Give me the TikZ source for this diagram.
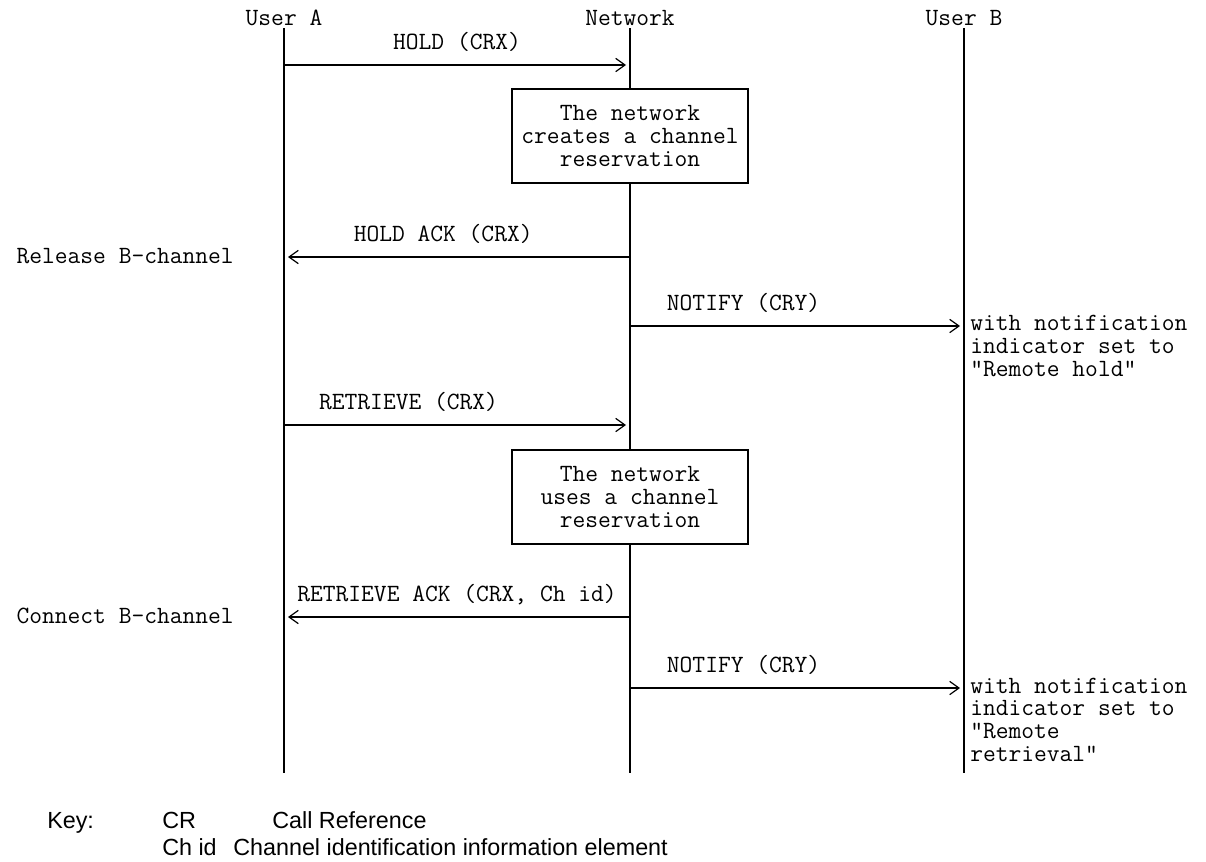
\documentclass[tikz,border=0pt]{standalone}
\usepackage{fontspec}
\newfontfamily\keyfont{Liberation Sans}
\usetikzlibrary{arrows.meta}

\tikzset{
  txt/.style={font=\ttfamily\fontsize{18.6}{17}\selectfont, inner sep=0pt},
  head/.style={txt, anchor=base},
  life/.style={line width=1.4pt},
  msg/.style={line width=1.1pt, -{Straight Barb[length=7pt,width=10pt,line width=0.9pt]}, shorten >=3pt},
  msglabel/.style={txt, anchor=base, yshift=12pt},
  actbox/.style={draw, line width=1.1pt, fill=white, minimum width=177pt, minimum height=70.5pt,
    align=center, font=\ttfamily\fontsize{18.6}{17.6}\selectfont, inner sep=2pt},
  note/.style={txt, align=left, anchor=base west},
  sidetxt/.style={txt, anchor=base east},
  keytxt/.style={font=\keyfont\fontsize{17.5}{17.5}\selectfont, inner sep=0pt, anchor=base west}
}

\begin{document}
\begin{tikzpicture}[x=0.75pt,y=-0.75pt]
  \useasboundingbox (0,0) rectangle (1206,861);

  % Lifelines
  \node[head] (userA) at (284,25) {User A};
  \node[head] (net) at (630,25) {Network};
  \node[head] (userB) at (964,25) {User B};
  \foreach \n in {userA,net,userB}
    \draw[life] (\n |- 0,28) -- (\n |- 0,773);

  % Hold
  \draw[msg] (userA |- 0,65) -- (net |- 0,65) node[msglabel, midway] {HOLD (CRX)};
  \node[actbox] (resv1) at (630,136) {The network\\creates a channel\\reservation};
  \draw[msg] (net |- 0,257) -- (userA |- 0,257) node[msglabel, pos=0.54] {HOLD ACK (CRX)};
  \node[sidetxt] (rel) at (234,263) {Release B-channel};
  \draw[msg] (net |- 0,326) -- (userB |- 0,326) node[msglabel, pos=0.34] {NOTIFY (CRY)};
  % base of a note = base of its last line
  \node[note] (note1) at (970,376) {with notification\\indicator set to\\"Remote hold"};

  % Retrieve
  \draw[msg] (userA |- 0,425) -- (net |- 0,425) node[msglabel, pos=0.36] {RETRIEVE (CRX)};
  \node[actbox] (resv2) at (630,497) {The network\\uses a channel\\reservation};
  \draw[msg] (net |- 0,617) -- (userA |- 0,617) node[msglabel, midway] {RETRIEVE ACK (CRX, Ch id)};
  \node[sidetxt] (con) at (234,623) {Connect B-channel};
  \draw[msg] (net |- 0,688) -- (userB |- 0,688) node[msglabel, pos=0.34] {NOTIFY (CRY)};
  \node[note] (note2) at (970,761) {with notification\\indicator set to\\"Remote\\retrieval"};

  % Key
  \node[keytxt] (key) at (47,828) {Key:};
  \node[keytxt] (cr) at (162,828) {CR};
  \node[keytxt] (crdef) at (272,828) {Call Reference};
  \node[keytxt] (chid) at (162,855) {Ch id};
  \node[keytxt] (chdef) at (233,855) {Channel identification information element};
\end{tikzpicture}
\end{document}
